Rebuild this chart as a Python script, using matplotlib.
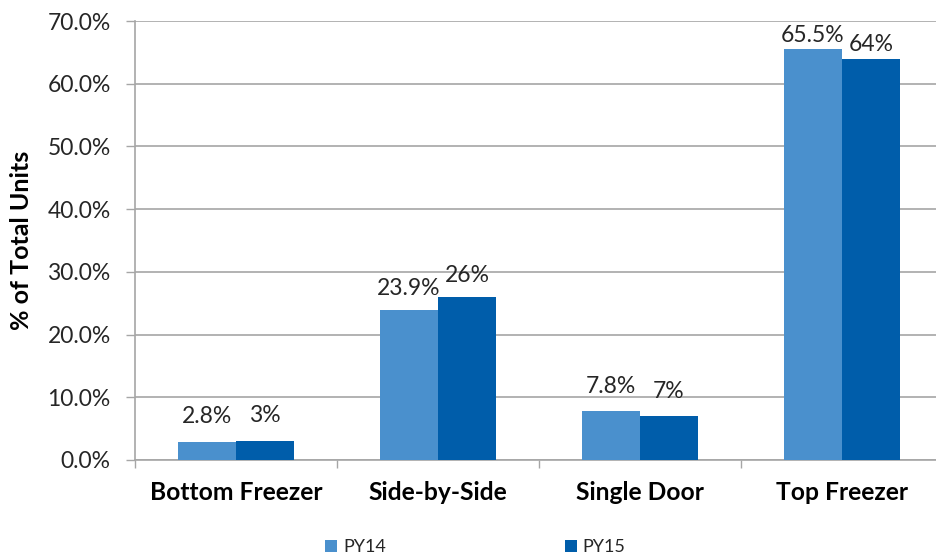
import matplotlib
matplotlib.use("Agg")
import matplotlib.pyplot as plt
import numpy as np

plt.rcParams["font.family"] = ["Lato", "DejaVu Sans"]

categories = ["Bottom Freezer", "Side-by-Side", "Single Door", "Top Freezer"]
py14 = [2.8, 23.9, 7.8, 65.5]
py15 = [3, 26, 7, 64]
series_names = ["PY14", "PY15"]
yticks = [0, 10, 20, 30, 40, 50, 60, 70]

c14 = "#4A90CD"
c15 = "#005DAA"
grid_c = "#A6A6A6"
text_c = "#262626"

fig = plt.figure(figsize=(9.36, 5.56), dpi=100)
ax = fig.add_axes([135 / 936, 96 / 556, 808 / 936, 439 / 556])

x = np.arange(len(categories))
w = 0.287
b1 = ax.bar(x - w / 2, py14, w, color=c14, label=series_names[0], zorder=3)
b2 = ax.bar(x + w / 2, py15, w, color=c15, label=series_names[1], zorder=3)

# value labels: PY14 with one decimal, PY15 as whole percent;
# the gap above the bar narrows as the bars get taller
for bars, fmt in ((b1, "{:.1f}%"), (b2, "{:.0f}%")):
    for b in bars:
        h = b.get_height()
        gap = (20 - 0.2 * h) / 1.389
        ax.annotate(fmt.format(h), (b.get_x() + b.get_width() / 2, h),
                    xytext=(0, gap), textcoords="offset points",
                    ha="center", va="baseline", fontsize=16.5, color=text_c)

ax.set_xlim(-0.5, len(categories) - 0.5)
ax.set_ylim(0, 70)
ax.set_yticks(yticks)
ax.set_yticklabels([f"{v:.1f}%" for v in yticks])
ax.yaxis.grid(True, color=grid_c, linewidth=1.2, zorder=0)
ax.tick_params(axis="y", length=6.5, width=1, color=grid_c, pad=11,
               labelsize=16.5, labelcolor=text_c)

ax.set_xticks(x)
ax.set_xticklabels(categories, fontweight="bold", fontsize=17.7)
ax.set_xticks(np.arange(len(categories) + 1) - 0.5, minor=True)
ax.tick_params(axis="x", which="major", length=0, pad=15, labelcolor="black")
ax.tick_params(axis="x", which="minor", length=6, width=1, color=grid_c)

for side in ("top", "right"):
    ax.spines[side].set_visible(False)
for side in ("left", "bottom"):
    ax.spines[side].set_color(grid_c)
    ax.spines[side].set_linewidth(1.2)

ax.set_ylabel("% of Total Units", fontweight="bold", fontsize=18,
              color="black", labelpad=10)

fig.legend(handles=[b1, b2], loc="lower left", bbox_to_anchor=(314 / 936, -0.018),
           ncol=2, frameon=False, fontsize=13, handlelength=0.7,
           handleheight=0.7, handletextpad=0.3, columnspacing=9.9,
           labelcolor=text_c, borderaxespad=0.2)

fig.savefig("out.png", dpi=100, facecolor="white")
